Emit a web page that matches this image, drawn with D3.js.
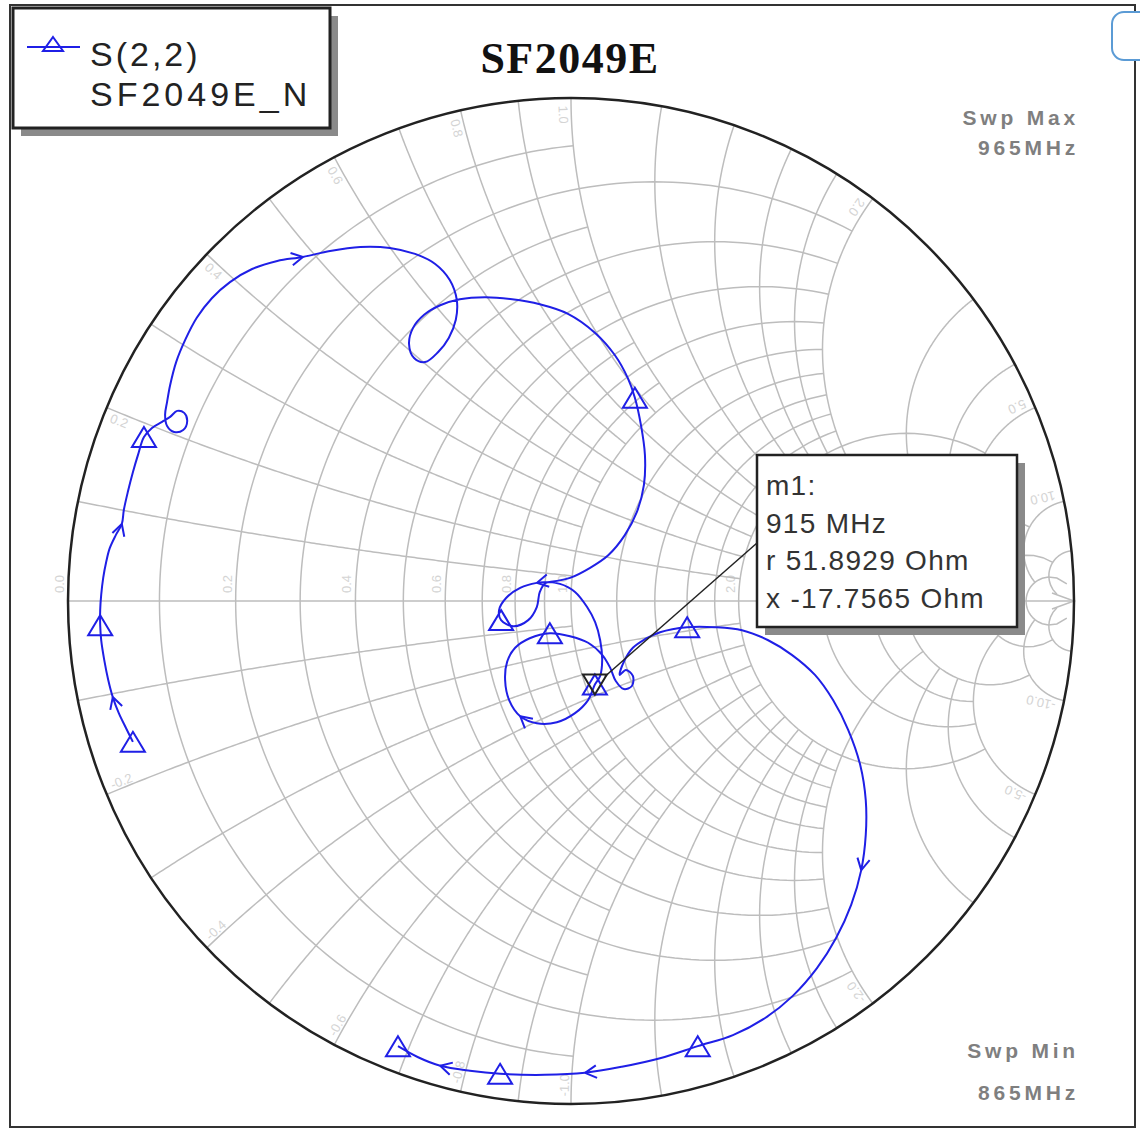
<!DOCTYPE html>
<html>
<head>
<meta charset="utf-8">
<script src="https://d3js.org/d3.v7.min.js"></script>
<style>
body { margin: 0; background: #fff; }
svg text { font-family: "Liberation Sans", Arial, sans-serif; }
</style>
</head>
<body>
<svg width="1140" height="1132"></svg>
<script>
// S(2,2) reflection coefficient, 865 -> 965 MHz
var gRe = [-0.871,-0.885,-0.899,-0.911,-0.920,-0.928,-0.934,-0.936,-0.936,-0.934,
  -0.930,-0.924,-0.917,-0.905,-0.893,-0.889,-0.881,-0.871,-0.861,-0.849,
  -0.833,-0.813,-0.797,-0.783,-0.769,-0.763,-0.771,-0.789,-0.803,-0.807,
  -0.803,-0.797,-0.785,-0.767,-0.744,-0.714,-0.678,-0.634,-0.584,-0.533,
  -0.479,-0.419,-0.360,-0.310,-0.270,-0.241,-0.227,-0.229,-0.243,-0.264,
  -0.290,-0.312,-0.322,-0.314,-0.292,-0.260,-0.221,-0.171,-0.117,-0.062,
  -0.006,0.048,0.087,0.113,0.127,0.139,0.147,0.145,0.131,0.107,
  0.074,0.038,-0.002,-0.042,-0.068,-0.101,-0.129,-0.143,-0.139,-0.115,
  -0.085,-0.068,-0.062,-0.050,-0.022,0.008,0.032,0.048,0.058,0.062,
  0.058,0.0475,0.034,0.008,-0.028,-0.068,-0.101,-0.123,-0.131,-0.127,
  -0.111,-0.082,-0.042,-0.002,0.034,0.062,0.078,0.089,0.105,0.121,
  0.123,0.109,0.097,0.105,0.123,0.147,0.177,0.231,0.286,0.340,
  0.392,0.439,0.485,0.521,0.551,0.575,0.586,0.586,0.577,0.557,
  0.527,0.489,0.441,0.386,0.322,0.252,0.177,0.101,0.028,-0.052,
  -0.141,-0.201,-0.260,-0.304,-0.344];
var gIm = [-0.280,-0.252,-0.223,-0.191,-0.157,-0.117,-0.078,-0.048,-0.018,0.012,
  0.046,0.078,0.105,0.131,0.153,0.181,0.217,0.256,0.290,0.326,
  0.344,0.356,0.366,0.378,0.374,0.358,0.340,0.336,0.348,0.370,
  0.396,0.429,0.475,0.519,0.563,0.602,0.634,0.660,0.676,0.684,
  0.696,0.704,0.702,0.690,0.670,0.638,0.598,0.559,0.523,0.495,
  0.475,0.483,0.511,0.543,0.569,0.588,0.600,0.604,0.600,0.590,
  0.571,0.533,0.489,0.443,0.404,0.350,0.290,0.231,0.177,0.131,
  0.091,0.066,0.046,0.038,0.036,0.026,0.006,-0.018,-0.038,-0.050,
  -0.038,-0.012,0.018,0.036,0.034,0.018,-0.012,-0.042,-0.078,-0.117,
  -0.149,-0.166,-0.197,-0.223,-0.241,-0.243,-0.229,-0.197,-0.157,-0.121,
  -0.093,-0.074,-0.064,-0.070,-0.083,-0.107,-0.133,-0.159,-0.175,-0.169,
  -0.149,-0.137,-0.147,-0.121,-0.093,-0.076,-0.062,-0.052,-0.052,-0.058,
  -0.078,-0.107,-0.147,-0.197,-0.256,-0.326,-0.396,-0.465,-0.535,-0.604,
  -0.670,-0.730,-0.785,-0.829,-0.863,-0.885,-0.909,-0.926,-0.938,-0.942,
  -0.940,-0.934,-0.924,-0.907,-0.885];

// triangle data symbols and direction arrows (sample indices)
var symbolIdx = [0, 7, 19, 64, 78, 91, 102, 117, 135, 140, 144];
var arrowIdx = [3, 14, 39, 74, 96, 128, 138, 142];

// marker m1
var z0 = 50;
var markerR = 51.8929, markerX = -17.7565;
var markerLines = ["m1:", "915 MHz", "r 51.8929 Ohm", "x -17.7565 Ohm"];

// grid: normalized values and how far each line runs
var rVals = [0.1,0.2,0.3,0.4,0.5,0.6,0.7,0.8,0.9,1,1.2,1.4,1.6,1.8,2,3,4,5,10,20];
var rSpan = [1,2,1,2,1,2,1,2,1,2,2,2,2,2,5,5,5,10,20,50];
var xVals = [0.1,0.2,0.3,0.4,0.5,0.6,0.7,0.8,0.9,1,1.2,1.4,1.6,1.8,2,3,4,5,10,20];
var xSpan = [1,2,1,2,1,2,1,2,1,2,2,2,2,2,5,5,5,10,20,50];
// faint grid labels
var rLabels = [0, 0.2, 0.4, 0.6, 0.8, 1, 2, 5];
var xLabels = [0.2, 0.4, 0.6, 0.8, 1, 2, 5, 10];

var svg = d3.select("svg");
var cx = 571, cy = 601, R = 503;
var sx = d3.scaleLinear().domain([-1, 1]).range([cx - R, cx + R]);
var sy = d3.scaleLinear().domain([-1, 1]).range([cy + R, cy - R]);
var line = d3.line().x(function(d) { return sx(d[0]); }).y(function(d) { return sy(d[1]); });

function gam(r, x) {
  var D = (r + 1) * (r + 1) + x * x;
  return [(r * r + x * x - 1) / D, 2 * x / D];
}

// frame
svg.append("rect").attr("x", 10).attr("y", 5).attr("width", 1125).attr("height", 1122)
  .attr("fill", "#fff").attr("stroke", "#333").attr("stroke-width", 2);

// faint labels
var lab = svg.append("g").attr("fill", "#d4d4d4").attr("font-size", 13);
rLabels.forEach(function(r) {
  var px = sx(gam(r, 0)[0]) - 4, py = sy(0) - 8;
  lab.append("text").attr("transform", "translate(" + px + "," + py + ") rotate(-90)").text(r.toFixed(1));
});
xLabels.forEach(function(v) {
  [1, -1].forEach(function(s) {
    var th = s * (Math.PI - 2 * Math.atan(v)) + s * 0.025;
    var px = sx(0.985 * Math.cos(th)), py = sy(0.985 * Math.sin(th));
    var rot = Math.atan2(Math.sin(th), -Math.cos(th)) * 180 / Math.PI;
    lab.append("text").attr("transform", "translate(" + px + "," + py + ") rotate(" + rot + ")")
      .attr("dy", s > 0 ? 0 : 10).text((s < 0 ? "-" : "") + v.toFixed(1));
  });
});

var grid = svg.append("g").attr("fill", "none").attr("stroke", "#bdbdbd").attr("stroke-width", 1.5);

// resistance circles
rVals.forEach(function(r, i) {
  var a = Math.atan(rSpan[i]);
  var pts = d3.range(201).map(function(k) { return gam(r, Math.tan(-a + 2 * a * k / 200)); });
  grid.append("path").attr("d", line(pts));
});
// reactance arcs
xVals.forEach(function(x, i) {
  var a = Math.atan(xSpan[i]);
  [1, -1].forEach(function(s) {
    var pts = d3.range(201).map(function(k) { return gam(Math.tan(a * k / 200), s * x); });
    grid.append("path").attr("d", line(pts));
  });
});
// real axis with arrow
grid.append("line").attr("x1", sx(-1)).attr("x2", sx(1)).attr("y1", sy(0)).attr("y2", sy(0));
grid.append("path").attr("d", "M" + (sx(1) - 22) + "," + (sy(0) - 8) + "L" + sx(1) + "," + sy(0) + "L" + (sx(1) - 22) + "," + (sy(0) + 8));

// outer circle
svg.append("circle").attr("cx", sx(0)).attr("cy", sy(0)).attr("r", sx(1) - sx(0))
  .attr("fill", "none").attr("stroke", "#222").attr("stroke-width", 2.5);

// trace
var pts = gRe.map(function(v, i) { return [v, gIm[i]]; });
var blue = "#1f1fe6";
svg.append("path").attr("d", line.curve(d3.curveCatmullRom)(pts))
  .attr("fill", "none").attr("stroke", blue).attr("stroke-width", 2);
line.curve(d3.curveLinear);

function tri(x, y, w, h, down) {
  var s = down ? -1 : 1;
  return "M" + x + "," + (y - s * h / 2) + "L" + (x + w / 2) + "," + (y + s * h / 2) + "L" + (x - w / 2) + "," + (y + s * h / 2) + "Z";
}
symbolIdx.forEach(function(i) {
  svg.append("path").attr("d", tri(sx(gRe[i]), sy(gIm[i]), 24, 20, false))
    .attr("fill", "none").attr("stroke", blue).attr("stroke-width", 2);
});
arrowIdx.forEach(function(i) {
  var x0 = sx(gRe[i - 1]), y0 = sy(gIm[i - 1]), x1 = sx(gRe[i + 1]), y1 = sy(gIm[i + 1]);
  var ang = Math.atan2(y1 - y0, x1 - x0);
  var px = sx(gRe[i]), py = sy(gIm[i]);
  var d = "";
  [-0.5, 0.5].forEach(function(o) {
    d += "M" + px + "," + py + "L" + (px - 13 * Math.cos(ang + o)) + "," + (py - 13 * Math.sin(ang + o));
  });
  svg.append("path").attr("d", d).attr("fill", "none").attr("stroke", blue).attr("stroke-width", 2);
});

// marker m1
var mg = gam(markerR / z0, markerX / z0);
var mx = sx(mg[0]), my = sy(mg[1]);
svg.append("line").attr("x1", mx + 10).attr("y1", my - 8).attr("x2", 757).attr("y2", 543)
  .attr("stroke", "#222").attr("stroke-width", 1.5);
svg.append("path").attr("d", tri(mx, my, 24, 20, true))
  .attr("fill", "none").attr("stroke", "#222").attr("stroke-width", 2);

svg.append("rect").attr("x", 765).attr("y", 463).attr("width", 260).attr("height", 172).attr("fill", "#8a8a8a");
svg.append("rect").attr("x", 757).attr("y", 455).attr("width", 260).attr("height", 172)
  .attr("fill", "#fff").attr("stroke", "#222").attr("stroke-width", 2.5);
markerLines.forEach(function(t, i) {
  svg.append("text").attr("x", 766).attr("y", 495 + i * 37.5).attr("font-size", 28)
    .attr("letter-spacing", 1.3).attr("fill", "#333").text(t);
});

// legend
svg.append("rect").attr("x", 21).attr("y", 16).attr("width", 317).attr("height", 120).attr("fill", "#8a8a8a");
svg.append("rect").attr("x", 13).attr("y", 8).attr("width", 317).attr("height", 120)
  .attr("fill", "#fff").attr("stroke", "#222").attr("stroke-width", 3);
svg.append("line").attr("x1", 27).attr("x2", 80).attr("y1", 47).attr("y2", 47).attr("stroke", blue).attr("stroke-width", 2);
svg.append("path").attr("d", tri(53, 44, 20, 14, false)).attr("fill", "none").attr("stroke", blue).attr("stroke-width", 2);
svg.append("text").attr("x", 90).attr("y", 66).attr("font-size", 34).attr("letter-spacing", 3)
  .attr("fill", "#222").text("S(2,2)");
svg.append("text").attr("x", 90).attr("y", 106).attr("font-size", 34).attr("letter-spacing", 4)
  .attr("fill", "#222").text("SF2049E_N");

// title
svg.append("text").attr("x", 570).attr("y", 73).attr("text-anchor", "middle")
  .style("font-family", "'Liberation Serif', 'Times New Roman', serif").attr("font-weight", "bold")
  .attr("font-size", 44).attr("letter-spacing", 1.5).attr("fill", "#111").text("SF2049E");

// sweep labels
[["Swp Max", 125], ["965MHz", 155], ["Swp Min", 1058], ["865MHz", 1100]].forEach(function(d) {
  svg.append("text").attr("x", 1079).attr("y", d[1]).attr("text-anchor", "end")
    .attr("font-size", 21).attr("font-weight", "bold").attr("letter-spacing", 3.8)
    .attr("fill", "#7f7f7f").text(d[0]);
});

// screenshot button clipped at the top-right corner
svg.append("rect").attr("x", 1112).attr("y", 12).attr("width", 50).attr("height", 48).attr("rx", 12)
  .attr("fill", "#fff").attr("stroke", "#5b9bd5").attr("stroke-width", 2);
</script>
</body>
</html>
